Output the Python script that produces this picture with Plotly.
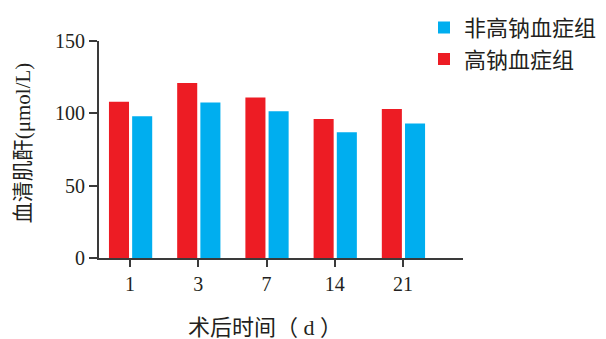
import plotly.graph_objects as go

categories = ["1", "3", "7", "14", "21"]
hyper_na = [108, 121, 111, 96, 103]       # 高钠血症组 (red)
non_hyper_na = [98, 107.5, 101.5, 87, 93]  # 非高钠血症组 (blue)
y_ticks = [0, 50, 100, 150]

RED = "#ED1C24"
BLUE = "#00AEEF"
FONT = "Liberation Serif, Noto Sans CJK SC"
AX = "#3a3a3a"

fig = go.Figure()
fig.add_trace(go.Bar(x=categories, y=hyper_na, name="高钠血症组",
                     marker=dict(color=RED, line=dict(width=0)),
                     width=0.294, offset=-0.31))
fig.add_trace(go.Bar(x=categories, y=non_hyper_na, name="非高钠血症组",
                     marker=dict(color=BLUE, line=dict(width=0)),
                     width=0.294, offset=0.03))

fig.update_layout(
    width=606, height=339,
    margin=dict(l=99, r=143, t=40.5, b=81, autoexpand=False),
    plot_bgcolor="white", paper_bgcolor="white",
    barmode="overlay",
    font=dict(family=FONT, size=20, color="#231f20"),
    showlegend=True,
    legend=dict(x=(424 - 99) / 364, y=(258 - 6) / 217.5, xanchor="left", yanchor="top",
                traceorder="reversed", font=dict(size=22, family=FONT),
                bgcolor="rgba(0,0,0,0)", itemwidth=30, tracegroupgap=0),
    xaxis=dict(type="category", range=[-0.456, 4.88],
               showline=True, linecolor=AX, linewidth=2,
               ticks="outside", ticklen=7, tickwidth=2, tickcolor=AX,
               showgrid=False, zeroline=False,
               tickfont=dict(size=20, family=FONT)),
    yaxis=dict(range=[0, 150], tickvals=y_ticks,
               showline=True, linecolor=AX, linewidth=2,
               ticks="outside", ticklen=8, tickwidth=2, tickcolor=AX,
               showgrid=False, zeroline=False,
               tickfont=dict(size=20, family=FONT)),
)
fig.add_annotation(text="血清肌酐(μmol/L)", xref="paper", yref="paper",
                   x=-(99 - 23) / 364, y=(258 - 143) / 217.5, textangle=-90,
                   showarrow=False, xanchor="center", yanchor="middle",
                   font=dict(size=21, family=FONT))
fig.add_annotation(text="术后时间（ d ）", xref="paper", yref="paper",
                   x=(265 - 99) / 364, y=-(328 - 258) / 217.5,
                   showarrow=False, xanchor="center", yanchor="middle",
                   font=dict(size=22, family=FONT))

fig.write_html("out.html")
